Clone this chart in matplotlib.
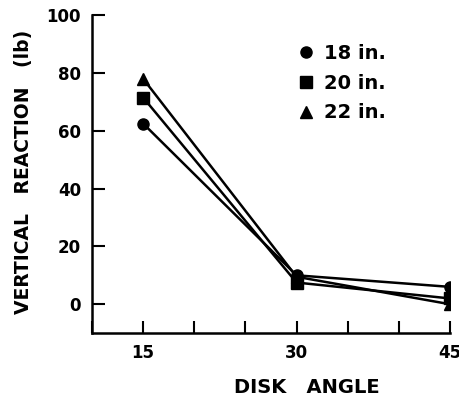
import matplotlib
matplotlib.use("Agg")
import matplotlib.pyplot as plt
from matplotlib.ticker import MultipleLocator
from matplotlib.lines import Line2D

angles = [15, 30, 45]
series_names = ["18 in.", "20 in.", "22 in."]
reaction_18 = [62.5, 10.0, 6.0]
reaction_20 = [71.5, 7.5, 2.0]
reaction_22 = [78.0, 9.5, 0.0]
markers = ["o", "s", "^"]

plt.rcParams['font.family'] = ['DejaVu Sans']

fig = plt.figure(figsize=(4.6, 3.98), dpi=100)
ax = fig.add_axes([0.2, 0.163, 0.778, 0.799])

for vals, mk in zip([reaction_18, reaction_20, reaction_22], markers):
    ax.plot(angles, vals, color='black', lw=1.8, marker=mk, markersize=8)

ax.set_xlim(10, 45)
ax.set_ylim(-10, 100)
ax.spines['top'].set_visible(False)
ax.spines['right'].set_visible(False)
ax.spines['left'].set_linewidth(1.8)
ax.spines['bottom'].set_linewidth(1.8)

ax.set_xticks(angles)
ax.xaxis.set_minor_locator(MultipleLocator(5))
ax.set_yticks([0, 20, 40, 60, 80, 100])
ax.tick_params(axis='both', which='both', direction='in', width=1.5, labelsize=12)
ax.tick_params(axis='both', which='major', length=9)
ax.tick_params(axis='x', which='minor', length=9)
ax.tick_params(axis='x', pad=8)
ax.tick_params(axis='y', pad=8)
for lbl in ax.get_xticklabels() + ax.get_yticklabels():
    lbl.set_fontweight('bold')

ax.set_xlabel('DISK   ANGLE', fontsize=14, fontweight='bold')
ax.xaxis.set_label_coords(0.6, -0.14)
ax.set_ylabel('VERTICAL   REACTION   (lb)', fontsize=13.5, fontweight='bold')
ax.yaxis.set_label_coords(-0.165, 0.506)

handles = [Line2D([], [], color='black', marker=mk, linestyle='none', markersize=8)
           for mk in markers]
ax.legend(handles, series_names, loc='upper left', bbox_to_anchor=(0.55, 0.94),
          frameon=False, prop={'weight': 'bold', 'size': 14},
          handlelength=0.8, handletextpad=0.5, labelspacing=0.55, borderpad=0)

fig.savefig('out.png', dpi=100)
